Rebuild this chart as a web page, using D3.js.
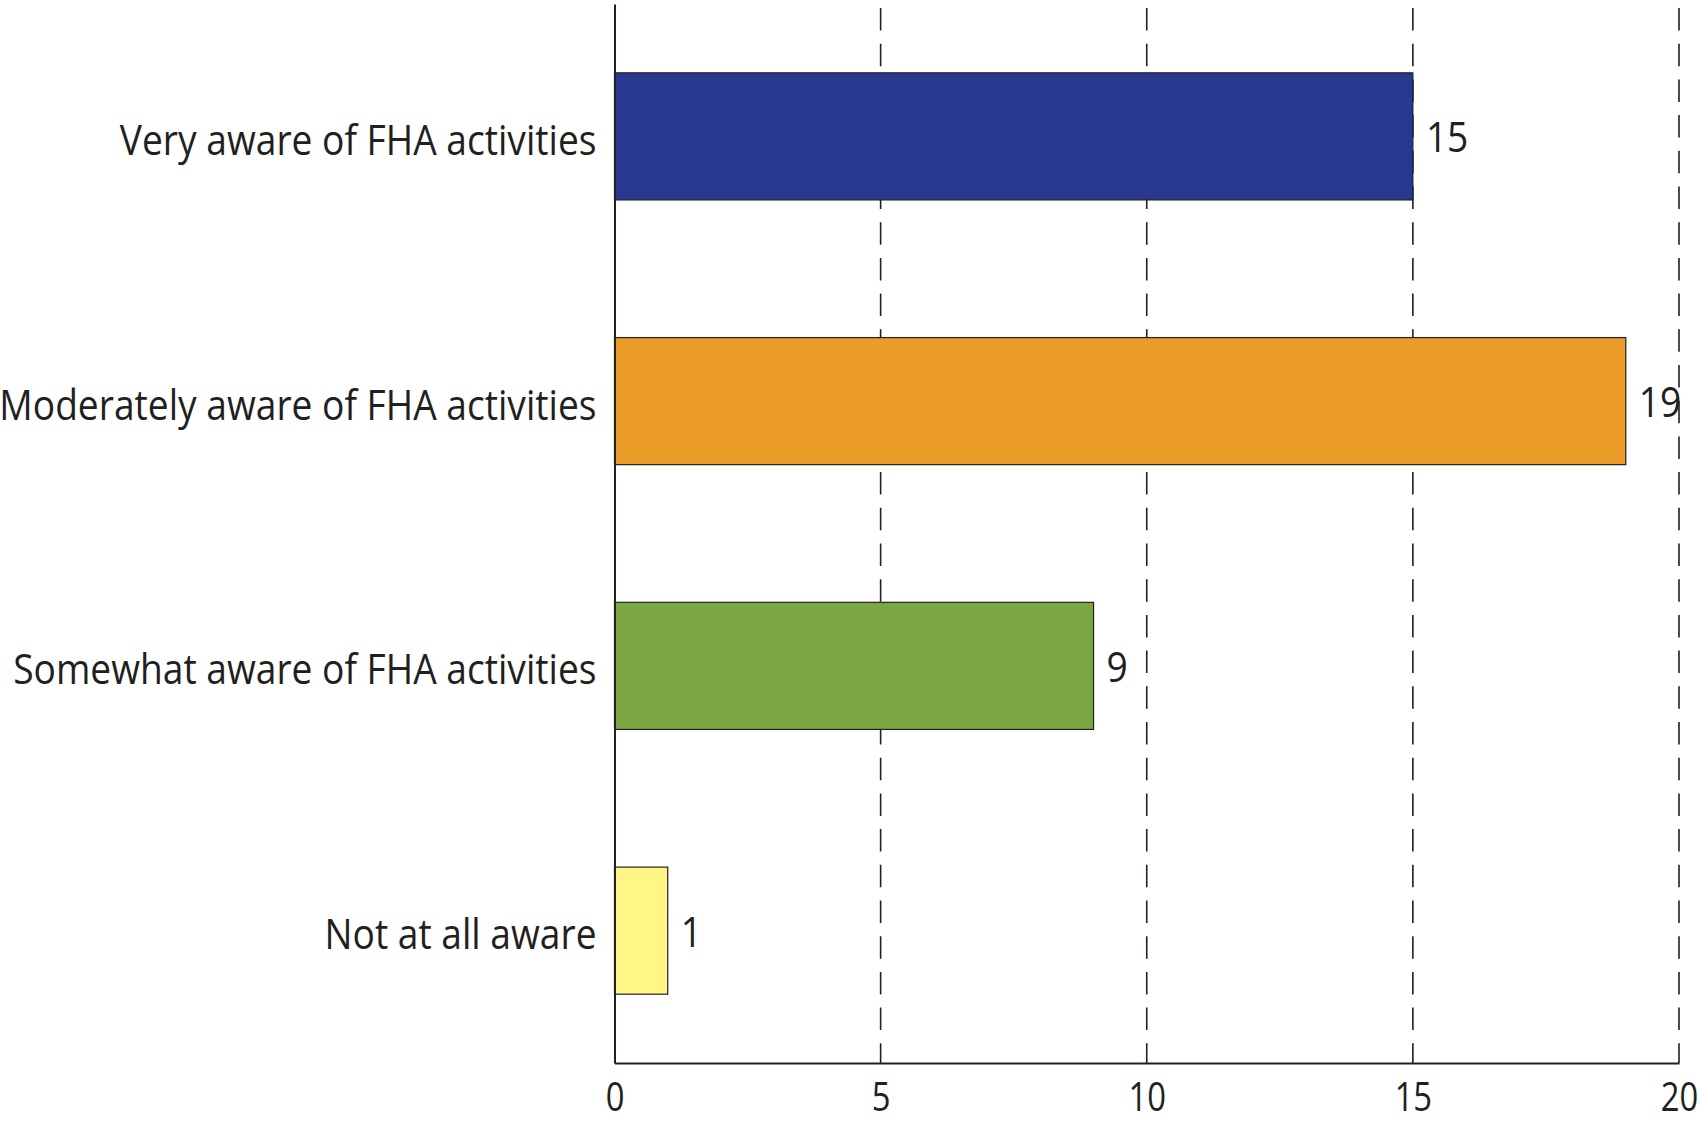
<!DOCTYPE html>
<meta charset="utf-8">
<style>
body {
  margin: 0;
  background: #fff;
}
svg text {
  font-family: "Open Sans", sans-serif;
  fill: #231f20;
}
.grid line {
  stroke: #231f20;
  stroke-width: 1.6;
  stroke-dasharray: 22.5 13.2;
}
.bar {
  stroke: #231f20;
  stroke-width: 1.2;
}
</style>
<body>
<svg width="1700" height="1123"></svg>
<script src="https://cdn.jsdelivr.net/npm/d3@7"></script>
<script>
var categories = ["Very aware of FHA activities", "Moderately aware of FHA activities",
                  "Somewhat aware of FHA activities", "Not at all aware"];
var values = [15, 19, 9, 1];
var colors = ["#283891", "#ec9c28", "#7da742", "#fff686"];
var xTicks = [0, 5, 10, 15, 20];

// the original font is narrower than Open Sans, squeeze text a bit
var squeeze = 0.885;

var svg = d3.select("svg"),
    margin = {top: 4, right: 21, bottom: 60, left: 614.5},
    width = +svg.attr("width") - margin.left - margin.right,
    height = +svg.attr("height") - margin.top - margin.bottom;

var x = d3.scaleLinear().domain([0, 20]).range([0, width]);
var y = d3.scaleBand().domain(categories).range([0, height])
    .paddingInner(0.52).paddingOuter(0.26);

var g = svg.append("g")
    .attr("transform", "translate(" + margin.left + "," + margin.top + ")");

// dashed gridlines
g.append("g")
    .attr("class", "grid")
  .selectAll("line")
  .data(xTicks.slice(1))
  .enter().append("line")
    .attr("x1", function(d) { return x(d); })
    .attr("x2", function(d) { return x(d); })
    .attr("y1", 4)
    .attr("y2", height);

var data = categories.map(function(c, i) { return {cat: c, val: values[i], color: colors[i]}; });

g.selectAll(".bar")
  .data(data)
  .enter().append("rect")
    .attr("class", "bar")
    .attr("x", 0)
    .attr("y", function(d) { return y(d.cat); })
    .attr("width", function(d) { return x(d.val); })
    .attr("height", y.bandwidth())
    .attr("fill", function(d) { return d.color; });

// value labels
g.selectAll(".val")
  .data(data)
  .enter().append("text")
    .attr("class", "val")
    .attr("transform", function(d) {
      return "translate(" + (x(d.val) + 13) + "," + (y(d.cat) + y.bandwidth() / 2) + ") scale(" + squeeze + ",1)";
    })
    .attr("dy", "0.38em")
    .style("font-size", "42px")
    .text(function(d) { return d.val; });

// x axis
var xAxis = g.append("g")
    .attr("transform", "translate(0," + height + ")")
    .call(d3.axisBottom(x).tickValues(xTicks).tickSize(0).tickPadding(20));
xAxis.select(".domain").attr("stroke", "#231f20").attr("stroke-width", 2);
xAxis.selectAll("text")
    .style("font-size", "40px")
    .attr("fill", "#231f20")
    .attr("transform", "scale(0.82,1)");

// y axis
var yAxis = g.append("g")
    .call(d3.axisLeft(y).tickSize(0).tickPadding(18));
yAxis.select(".domain").attr("stroke", "#231f20").attr("stroke-width", 2);
yAxis.selectAll("text")
    .style("font-size", "42px")
    .attr("fill", "#231f20")
    .attr("x", -18 / squeeze)
    .attr("dy", "0.44em")
    .attr("transform", "scale(" + squeeze + ",1)");
</script>
</body>
